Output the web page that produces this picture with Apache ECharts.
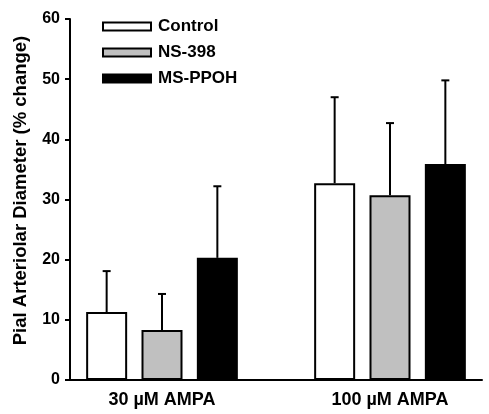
<!DOCTYPE html>
<html>
<head>
<meta charset="utf-8">
<script src="https://cdn.jsdelivr.net/npm/echarts@6/dist/echarts.min.js"></script>
<style>html,body{margin:0;padding:0;background:#fff;}#c{width:489px;height:414px;}</style>
</head>
<body>
<div id="c"></div>
<script>
var categories = ['30 \u00B5M AMPA', '100 \u00B5M AMPA'];
var seriesNames = ['Control', 'NS-398', 'MS-PPOH'];
var controlMean = [11.3, 32.7];
var controlErr = [18.1, 47.0];
var ns398Mean = [8.3, 30.7];
var ns398Err = [14.3, 42.7];
var msppohMean = [20.3, 35.9];
var msppohErr = [32.2, 49.8];
var yTicks = [0, 10, 20, 30, 40, 50, 60];

var means = [controlMean, ns398Mean, msppohMean];
var errs = [controlErr, ns398Err, msppohErr];
var colors = ['#ffffff', '#c0c0c0', '#000000'];
var FONT = 'Liberation Sans, Arial, sans-serif';
var BAR_W = 41, BAR_GAP = 0.35;
// category slots: groups sit two slots apart with an empty slot between them
var slotOf = categories.map(function (c, k) { return k * 2; });
var axisData = [categories[0], '', categories[1]];

var chart = echarts.init(document.getElementById('c'));
var series = [];
seriesNames.forEach(function (n, i) {
  series.push({
    name: n, type: 'bar', xAxisIndex: 0, yAxisIndex: 0, clip: false,
    data: categories.map(function (c, k) { return [slotOf[k], means[i][k]]; }),
    barWidth: BAR_W, barGap: (BAR_GAP * 100) + '%',
    itemStyle: { color: colors[i], borderColor: '#000', borderWidth: 2 },
    z: 3, silent: true
  });
});
seriesNames.forEach(function (n, i) {
  series.push({
    type: 'custom', xAxisIndex: 0, yAxisIndex: 0, z: 2, silent: true, clip: false,
    data: categories.map(function (c, k) { return [slotOf[k], means[i][k], errs[i][k]]; }),
    renderItem: function (params, api) {
      var off = (i - 1) * BAR_W * (1 + BAR_GAP);
      var base = api.coord([api.value(0), api.value(1)]);
      var top = api.coord([api.value(0), api.value(2)]);
      var x = base[0] + off;
      return {
        type: 'group',
        children: [
          { type: 'line', shape: { x1: x, y1: base[1], x2: x, y2: top[1] }, style: { stroke: '#000', lineWidth: 2 } },
          { type: 'line', shape: { x1: x - 4, y1: top[1], x2: x + 4, y2: top[1] }, style: { stroke: '#000', lineWidth: 2 } }
        ]
      };
    }
  });
});

chart.setOption({
  animation: false,
  backgroundColor: '#fff',
  legend: {
    data: seriesNames, orient: 'vertical', left: 97, top: 13,
    icon: 'rect', itemWidth: 48, itemHeight: 8, itemGap: 9,
    textStyle: { fontFamily: FONT, fontWeight: 'bold', fontSize: 17, color: '#000', padding: [0, 0, 0, 2] },
    itemStyle: { borderColor: '#000', borderWidth: 2 }
  },
  grid: [
    { left: 105, width: 342, top: 19, bottom: 34 },
    { left: 70, right: 7, top: 19, bottom: 34 }
  ],
  xAxis: [
    { type: 'category', gridIndex: 0, data: axisData,
      axisLine: { show: false }, axisTick: { show: false },
      axisLabel: { fontFamily: FONT, fontWeight: 'bold', fontSize: 18, color: '#000', margin: 11, interval: 0 } },
    { type: 'value', gridIndex: 1, min: 0, max: 1,
      axisLine: { show: true, lineStyle: { color: '#000', width: 2 } },
      axisTick: { show: false }, axisLabel: { show: false }, splitLine: { show: false } }
  ],
  yAxis: [
    { type: 'value', gridIndex: 0, min: 0, max: 60, interval: 10, show: false },
    { type: 'value', gridIndex: 1, min: yTicks[0], max: yTicks[yTicks.length - 1], interval: 10,
      name: 'Pial Arteriolar Diameter (% change)', nameLocation: 'middle', nameGap: 40,
      nameTextStyle: { fontFamily: FONT, fontWeight: 'bold', fontSize: 18.5, color: '#000', padding: [0, 0, 0, 18] },
      axisLine: { show: true, lineStyle: { color: '#000', width: 2 } },
      axisTick: { show: true, length: 5, lineStyle: { color: '#000', width: 2 } },
      axisLabel: { fontFamily: FONT, fontWeight: 'bold', fontSize: 16, color: '#000', margin: 10 },
      splitLine: { show: false } }
  ],
  series: series
});
</script>
</body>
</html>
